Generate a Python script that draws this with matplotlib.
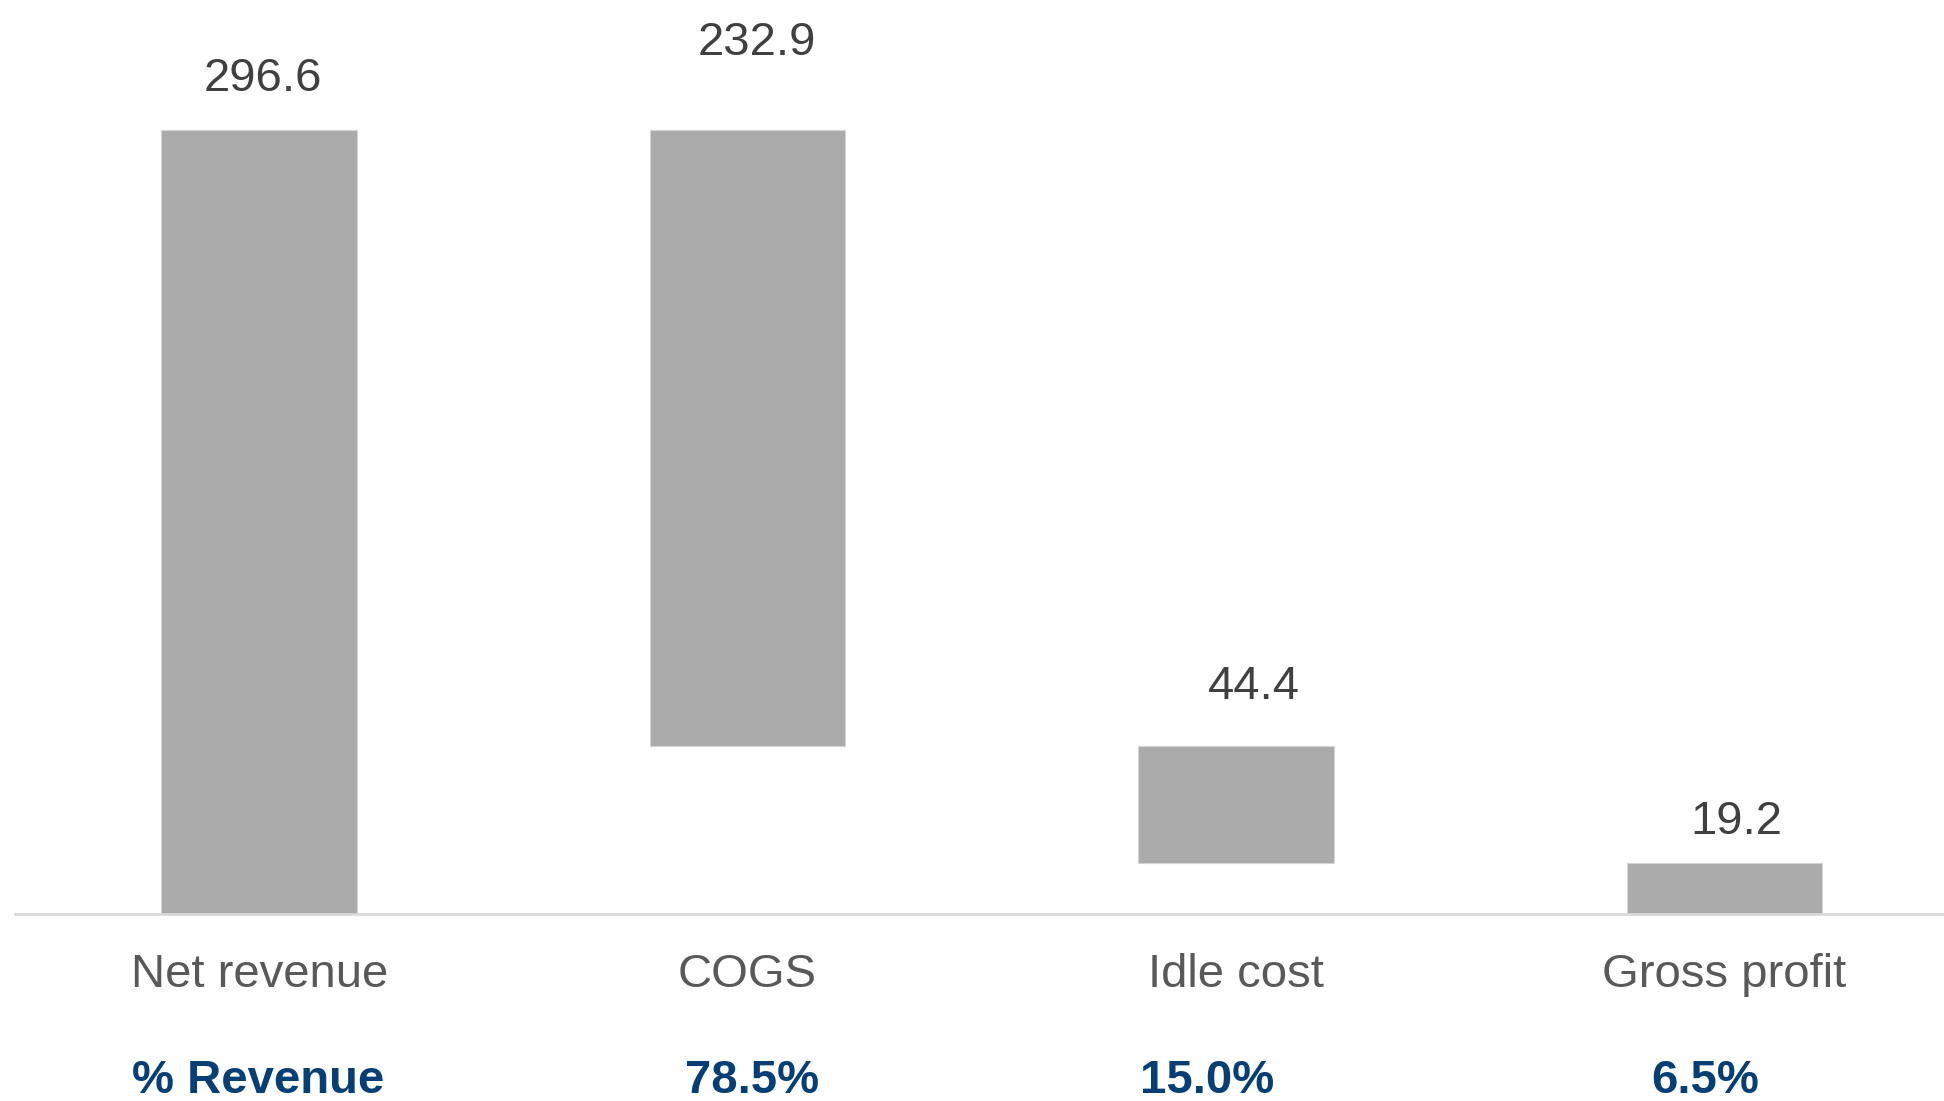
import matplotlib.pyplot as plt
import numpy as np

plt.rcParams['font.family'] = ['Liberation Sans', 'DejaVu Sans']

categories = ['Net revenue', 'COGS', 'Idle cost', 'Gross profit']
values = [296.6, 232.9, 44.4, 19.2]
value_labels = ['296.6', '232.9', '44.4', '19.2']
pct_labels = ['% Revenue', '78.5%', '15.0%', '6.5%']

# waterfall: first and last bars from zero, middle ones hang from the running total
bottoms = [0.0]
running = values[0]
for v in values[1:-1]:
    running -= v
    bottoms.append(running)
bottoms.append(0.0)
tops = [b + v for b, v in zip(bottoms, values)]

fig = plt.figure(figsize=(19.44, 11.01), dpi=100)
ax = fig.add_axes([0.0077, 0.1698, 0.9923, 0.8302])

x = np.arange(len(categories))
ax.bar(x, values, bottom=bottoms, width=0.4, color='#ababab',
       edgecolor='#d4d4d4', linewidth=0.8, zorder=2)

ax.set_xlim(-0.5, 3.45)
ax.set_ylim(0, 345.8)

# value labels above each bar (offsets in points)
lbl_dx = [3, 7, 13, 9]
lbl_dy = [37, 63, 42, 30]
for i in range(len(values)):
    ax.annotate(value_labels[i], (x[i], tops[i]), xytext=(lbl_dx[i], lbl_dy[i]),
                textcoords='offset points', ha='center', va='center',
                fontsize=34, color='#404040')

# category labels and % revenue row below the axis
pct_dx = [-1, 3, -21, -14]
for i in range(len(categories)):
    ax.annotate(categories[i], (x[i], 0), xytext=(0, -44),
                textcoords='offset points', ha='center', va='center',
                fontsize=34, color='#595959', annotation_clip=False)
    ax.annotate(pct_labels[i], (x[i], 0), xytext=(pct_dx[i], -120),
                textcoords='offset points', ha='center', va='center',
                fontsize=34, color='#063f75', fontweight='bold',
                annotation_clip=False)

for s in ['top', 'right', 'left']:
    ax.spines[s].set_visible(False)
ax.spines['bottom'].set_color('#d9d9d9')
ax.spines['bottom'].set_linewidth(2)
ax.set_xticks([])
ax.set_yticks([])

fig.savefig('out.png', dpi=100)
